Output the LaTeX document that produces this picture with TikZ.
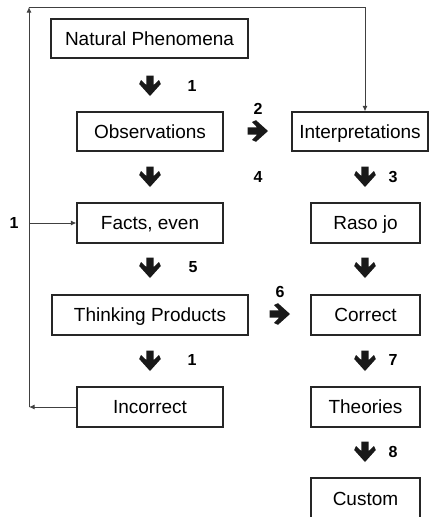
\documentclass[tikz,border=0pt]{standalone}
\usepackage{fontspec}
\setmainfont{Liberation Sans}
\usetikzlibrary{arrows.meta}
\tikzset{
  box/.style={draw=black!85, line width=1.2pt, inner sep=0pt, text height=13.6pt, text depth=0pt, font=\fontsize{19}{21}\selectfont},
  num/.style={inner sep=0pt, font=\fontsize{16}{18}\selectfont\bfseries},
  thinline/.style={draw=black!75, line width=1pt},
  tip/.style={-{Latex[length=5.5pt,width=5pt]}},
  barrow/.pic={\fill[black!90] (-3.7,-10.5) -- (3.7,-10.5) -- (3.7,-1) -- (9,-6) -- (10.8,-2) -- (0,10) -- (-10.8,-2) -- (-9,-6) -- (-3.7,-1) -- cycle;}
}
\begin{document}
\begin{tikzpicture}[x=1pt,y=-1pt]
\useasboundingbox (0,0) rectangle (430,517);
\clip (0,0) rectangle (430,517);
% boxes
\node[box, minimum width=197pt, minimum height=39pt] (nat) at (149.5,38.5) {Natural Phenomena};
\node[box, minimum width=146pt, minimum height=39pt] (obs) at (150,131.5) {Observations};
\node[box, minimum width=136pt, minimum height=39pt] (interp) at (360,131.5) {Interpretations};
\node[box, minimum width=146pt, minimum height=40pt] (facts) at (150,223) {Facts, even};
\node[box, minimum width=109pt, minimum height=40pt] (raso) at (365.5,223) {Raso jo};
\node[box, minimum width=196pt, minimum height=40pt] (think) at (150,315) {Thinking Products};
\node[box, minimum width=109pt, minimum height=40pt] (corr) at (365.5,315) {Correct};
\node[box, minimum width=146pt, minimum height=40pt] (inc) at (150,407) {Incorrect};
\node[box, minimum width=109pt, minimum height=40pt] (theo) at (365.5,407) {Theories};
\node[box, minimum width=109pt, minimum height=42pt] (cust) at (365.5,499) {Custom};
% block arrows
\pic at (150,86) {barrow};
\pic at (150,177) {barrow};
\pic at (150,268) {barrow};
\pic at (150,361) {barrow};
\pic at (365,177) {barrow};
\pic at (365,268) {barrow};
\pic at (365,361) {barrow};
\pic at (365,452) {barrow};
\pic[rotate=90] at (258,131) {barrow};
\pic[rotate=90] at (280,314) {barrow};
% numbers
\node[num] (n1) at (192,86) {1};
\node[num] (n2) at (258,109) {2};
\node[num] (n4) at (258,177) {4};
\node[num] (n3) at (393,177) {3};
\node[num] (n5) at (193,267) {5};
\node[num] (n6) at (280,292) {6};
\node[num] (n1b) at (192,360) {1};
\node[num] (n7) at (393,360) {7};
\node[num] (n8) at (393,452) {8};
\node[num] (n1c) at (14,223) {1};
% feedback loop
\coordinate (tl) at (29,7);
\coordinate (bl) at (29,407);
\coordinate (ml) at (29,223);
\coordinate (tr) at (365,7);
\draw[thinline, tip] (inc.west) -- (bl);
\draw[thinline, tip] (bl) -- (tl);
\draw[thinline, tip] (tl) -- (tr) -- (tr |- interp.north);
\draw[thinline, tip] (ml) -- (facts.west);
\end{tikzpicture}
\end{document}
